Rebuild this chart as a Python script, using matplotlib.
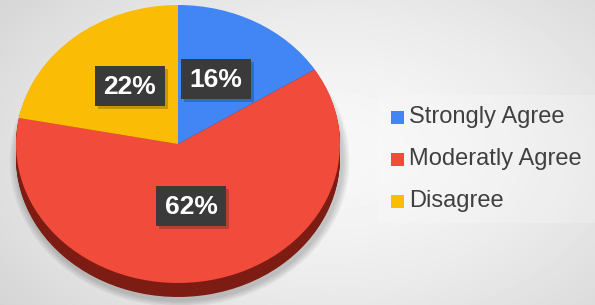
import numpy as np
import matplotlib.pyplot as plt
from matplotlib.patches import Rectangle

plt.rcParams['font.family'] = ['Liberation Sans', 'DejaVu Sans']

labels = ['Strongly Agree', 'Moderatly Agree', 'Disagree']
shares = [16, 62, 22]
colors = ['#4285f4', '#f04b3b', '#fbbc05']
side_colors = ['#1c3f80', '#7c1c12', '#8a6500']

W, H = 595, 305
fig = plt.figure(figsize=(W / 100, H / 100), dpi=100)

# background: soft radial gradient
bg = fig.add_axes([0, 0, 1, 1])
yy, xx = np.mgrid[0:H, 0:W]
r = np.sqrt(((xx - 330) / 420) ** 2 + ((yy - 150) / 260) ** 2)
bg.imshow(0.97 - 0.14 * np.clip(r, 0, 1) ** 1.6, cmap='gray', vmin=0, vmax=1,
          extent=[0, W, H, 0], aspect='auto')
bg.add_patch(Rectangle((378, 95), 217, 128, color='white', alpha=0.2, lw=0))
bg.set_xlim(0, W)
bg.set_ylim(H, 0)
bg.axis('off')

# pie face ellipse (pixels): x 16..340, y 5..283, extruded 14 px
x0, x1, y0, y1, depth = 16, 340, 5, 283, 14
ry = 2 / (y1 - y0)
pad = 0.05 * (x1 - x0) / 2
ax = fig.add_axes([(x0 - pad) / W, (H - y1 - depth) / H,
                   (x1 - x0 + 2 * pad) / W, (y1 - y0 + depth) / H])

# soft shadow under the pie
for k in range(4):
    ax.pie([1], radius=1.0 + 0.012 * (k + 1), center=(0.01, -(depth + 3) * ry),
           colors=['black'], wedgeprops=dict(alpha=0.05, lw=0))
for off in np.arange(depth, 0, -1):
    ax.pie(shares, startangle=90, counterclock=False, colors=side_colors,
           center=(0, -off * ry), wedgeprops=dict(lw=0))
wedges, _ = ax.pie(shares, startangle=90, counterclock=False, colors=colors,
                   wedgeprops=dict(lw=0))
ax.set_aspect('auto')
ax.set_xlim(-1.05, 1.05)
ax.set_ylim(-1 - depth * ry, 1)
ax.axis('off')

# overlay for labels and legend
top = fig.add_axes([0, 0, 1, 1])
top.set_xlim(0, W)
top.set_ylim(H, 0)
top.axis('off')

# percentage labels in dark boxes (pixel positions, same order as shares)
label_px = [(216, 79), (191, 206), (130, 86)]
bw, bh = 70, 40
for (lx, ly), v in zip(label_px, shares):
    top.add_patch(Rectangle((lx - bw / 2 + 3, ly - bh / 2 + 3), bw, bh,
                            color='black', alpha=0.2, lw=0))
    top.add_patch(Rectangle((lx - bw / 2, ly - bh / 2), bw, bh, color='#3a3a3a', lw=0))
    top.text(lx, ly + 1, f'{v}%', ha='center', va='center', fontsize=19,
             fontweight='bold', color='white')

# legend
for i, (lab, c) in enumerate(zip(labels, colors)):
    y = 117 + i * 42
    top.add_patch(Rectangle((391, y - 6.5), 13, 13, color=c, lw=0))
    top.text(409, y, lab, ha='left', va='center', fontsize=17, color='#404040')

fig.savefig('out.png', dpi=100)
